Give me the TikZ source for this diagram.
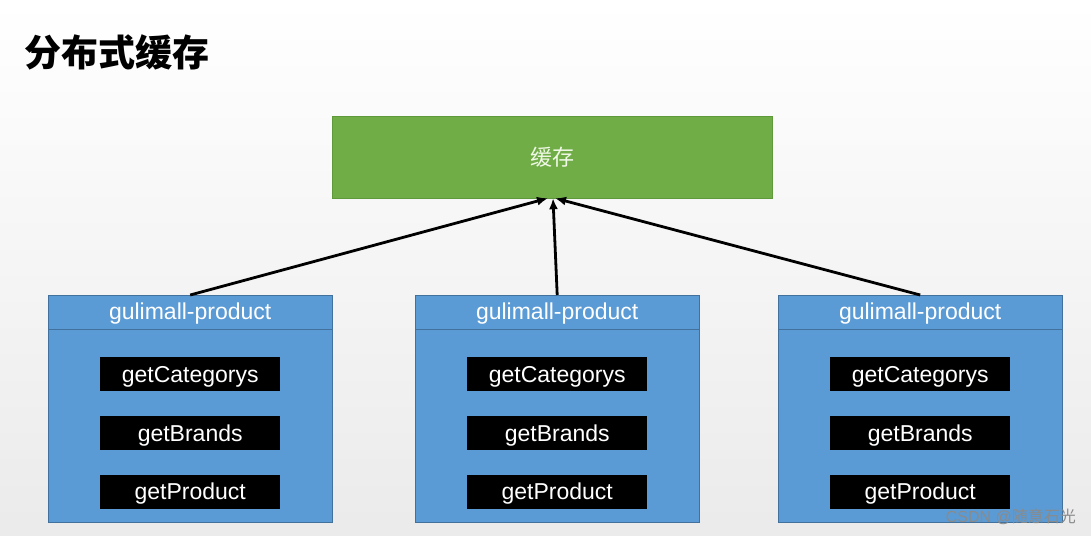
\documentclass[tikz,border=0pt]{standalone}
\usepackage{fontspec}
\setmainfont{Liberation Sans}
\newfontfamily\cjk{Noto Sans CJK SC}
\usepackage{tikz}
\usetikzlibrary{arrows.meta,calc,positioning}
\definecolor{cachegreen}{HTML}{70AD47}
\definecolor{cacheedge}{HTML}{5E9A3A}
\definecolor{cachetext}{HTML}{F0F8E6}
\definecolor{svcblue}{HTML}{5B9BD5}
\definecolor{svcedge}{HTML}{41719C}
\definecolor{markgray}{HTML}{8A8A8A}

\begin{document}
\begin{tikzpicture}[x=1pt,y=-1pt,
  cache/.style={draw=cacheedge,fill=cachegreen,minimum width=440pt,minimum height=82pt,inner sep=0pt,text=cachetext,font=\cjk\fontsize{22}{26}\selectfont},
  svc/.style={draw=svcedge,fill=svcblue,minimum width=284pt,minimum height=227pt,inner sep=0pt,anchor=north west},
  head/.style={text=white,inner sep=0pt,font=\fontsize{23}{27}\selectfont},
  headline/.style={draw=svcedge,line width=0.8pt},
  method/.style={fill=black,text=white,minimum width=180pt,minimum height=34pt,inner sep=0pt,text height=20pt,text depth=4pt,font=\fontsize{23}{27}\selectfont},
  call/.style={line width=2.8pt,-{Latex[length=11pt,width=9pt]}}]
\useasboundingbox (0,0) rectangle (1091,535);
\shade[top color=white,bottom color=black!8] (0,0) rectangle (1091,535);
\node[anchor=west,inner sep=0pt,font=\cjk\bfseries\fontsize{37}{42}\selectfont] (title) at (24,52) {分布式缓存};
\node[cache] (cache) at (552,157) {缓存};
% left service
\node[svc] (left) at (48,295) {};
\node[head] (lefthead) at ($(left.north)+(0,19)$) {gulimall-product};
\draw[headline] ($(left.north west)+(0,34)$) -- ($(left.north east)+(0,34)$);
\node[method] (leftcat) at ($(left.north)+(0,79)$) {getCategorys};
\node[method,below=25pt of leftcat] (leftbrand) {getBrands};
\node[method,below=24pt of leftbrand] (leftprod) {getProduct};
% middle service
\node[svc] (mid) at (415,295) {};
\node[head] (midhead) at ($(mid.north)+(0,19)$) {gulimall-product};
\draw[headline] ($(mid.north west)+(0,34)$) -- ($(mid.north east)+(0,34)$);
\node[method] (midcat) at ($(mid.north)+(0,79)$) {getCategorys};
\node[method,below=25pt of midcat] (midbrand) {getBrands};
\node[method,below=24pt of midbrand] (midprod) {getProduct};
% right service
\node[svc] (right) at (778,295) {};
\node[head] (righthead) at ($(right.north)+(0,19)$) {gulimall-product};
\draw[headline] ($(right.north west)+(0,34)$) -- ($(right.north east)+(0,34)$);
\node[method] (rightcat) at ($(right.north)+(0,79)$) {getCategorys};
\node[method,below=25pt of rightcat] (rightbrand) {getBrands};
\node[method,below=24pt of rightbrand] (rightprod) {getProduct};
% calls to the cache
\draw[call] (left.north) -- ([xshift=-4pt]cache.south);
\draw[call] (mid.north) -- ([xshift=1pt]cache.south);
\draw[call] (right.north) -- ([xshift=3pt]cache.south);
\node[anchor=east,inner sep=0pt,text=markgray,font=\fontsize{16}{19}\selectfont] (mark) at (1076,517) {CSDN @{\cjk 随意石光}};
\end{tikzpicture}
\end{document}
